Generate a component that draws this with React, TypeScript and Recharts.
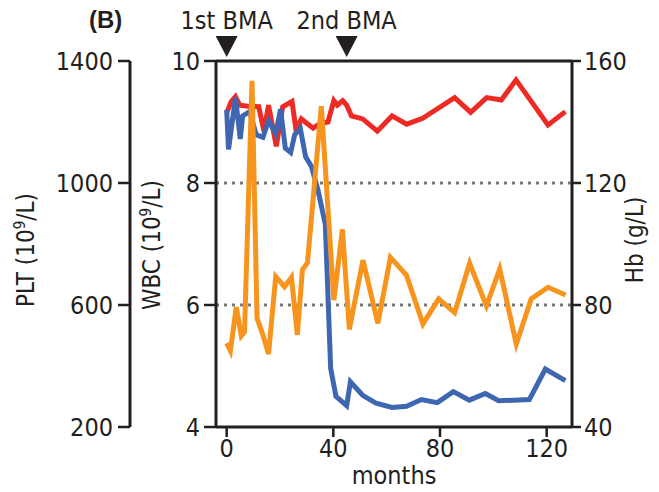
import React from 'react';
import { LineChart, Line, XAxis, YAxis, ReferenceLine } from 'recharts';

// months / values, one list pair per series
const wbcMonths = [0, 0.7, 3.3, 5.1, 6, 8.6, 11.1, 13.6, 15.7, 18.4, 20.2, 22, 24, 25.5, 27.6, 29.6, 31.8, 34.2, 37, 39, 41, 45, 46.4, 51, 56, 62, 67.5, 73, 79, 85, 91, 97, 102, 113.5, 119.5, 127];
const wbcValues = [9.2, 8.55, 9.4, 8.72, 9.1, 9.17, 8.79, 8.75, 9.02, 8.81, 9.21, 8.57, 8.5, 8.79, 8.9, 8.43, 8.27, 7.89, 7.32, 4.96, 4.5, 4.35, 4.74, 4.52, 4.39, 4.32, 4.34, 4.45, 4.4, 4.58, 4.44, 4.55, 4.43, 4.45, 4.95, 4.76];

const hbMonths = [0, 1.7, 3.3, 4.9, 8, 12, 14, 15.7, 18.6, 21, 24.5, 26, 28, 32.4, 35, 38, 40.2, 41.5, 43.5, 45, 46.8, 51, 56.5, 62, 67.5, 73.5, 85.5, 91.5, 97.5, 103, 108.5, 120.5, 127];
const hbValues = [143, 146.7, 148.3, 145.5, 145.2, 145, 137, 145.5, 132, 145, 146.7, 137.5, 141, 138, 139.5, 140, 147, 145.5, 147, 145.5, 142, 141, 137, 142, 139.3, 141.2, 148, 143.2, 148, 147.2, 153.8, 139, 143.4];

const pltMonths = [0, 1.4, 3.6, 5.5, 6.7, 9.5, 11.4, 13.6, 15.7, 18.4, 21.7, 24.3, 26.5, 28.4, 30.3, 35.5, 40.2, 43.4, 46, 51.1, 56.7, 61.4, 67.4, 73.6, 79.5, 85.5, 91.1, 97.4, 102.4, 108.6, 114.2, 120.5, 127.1];
const pltValues = [475, 450, 593, 499, 512, 1335, 556, 502, 439, 693, 660, 691, 502, 715, 739, 1252, 616, 848, 520, 747, 540, 756, 698, 538, 620, 575, 737, 597, 718, 472, 620, 658, 633];

const monthTicks = [0, 40, 80, 120];
const wbcTicks = [4, 6, 8, 10];
const pltTicks = [200, 600, 1000, 1400];
const hbTicks = [40, 80, 120, 160];
const gridLines = [6, 8];

const bmaMonths = [0, 45];
const bmaLabels = ['1st BMA', '2nd BMA'];

const toRows = (months: number[], values: number[]) => months.map((m, i) => ({ m, v: values[i] }));
const wbcData = toRows(wbcMonths, wbcValues);
const hbData = toRows(hbMonths, hbValues);
const pltData = toRows(pltMonths, pltValues);

const FONT = '"Liberation Sans Narrow", "DejaVu Sans Condensed", Arial, sans-serif';
const INK = '#231f20';
const tickStyle = { fill: INK, fontSize: 25, fontFamily: FONT };
const axisLine = { stroke: INK, strokeWidth: 3 };
const tickLine = { stroke: INK, strokeWidth: 2.5 };

const AxisTitle = ({ cx, cy, name, unit }: { cx: number; cy: number; name: string; unit?: boolean }) => (
  <text
    transform={`translate(${cx},${cy}) rotate(-90)`}
    textAnchor="middle"
    fill={INK}
    fontSize={24}
    fontFamily={FONT}
  >
    {unit ? (
      <>
        {name} (10<tspan dy={-9} fontSize={15}>9</tspan>
        <tspan dy={9}>/L)</tspan>
      </>
    ) : (
      name
    )}
  </text>
);

const renderBmaTick = (props: any) => {
  const { x, payload } = props;
  const i = bmaMonths.indexOf(payload.value);
  return (
    <g key={`bma-${payload.value}`}>
      <text x={x} y={29} textAnchor="middle" fill={INK} fontSize={25} fontFamily={FONT}>
        {bmaLabels[i]}
      </text>
      <path d={`M${x - 11},36 L${x + 11},36 L${x},57 Z`} fill={INK} />
    </g>
  );
};

export default function App() {
  return (
    <div style={{ position: 'absolute', left: 0, top: 0, width: 659, height: 492, background: '#fff' }}>
      <div
        style={{
          position: 'absolute',
          left: 89,
          top: 6,
          fontFamily: 'Arial, sans-serif',
          fontWeight: 'bold',
          fontSize: 24,
          color: INK,
        }}
      >
        (B)
      </div>
      <LineChart width={659} height={492} margin={{ top: 0, right: 0, bottom: 5, left: 0 }}>
        <XAxis
          xAxisId="top"
          orientation="top"
          type="number"
          dataKey="m"
          domain={[-4, 129.5]}
          allowDataOverflow
          ticks={bmaMonths}
          height={61}
          axisLine={axisLine}
          tickLine={false}
          tick={renderBmaTick}
          interval={0}
        />
        <XAxis
          xAxisId="m"
          type="number"
          dataKey="m"
          domain={[-4, 129.5]}
          allowDataOverflow
          ticks={monthTicks}
          height={60}
          axisLine={axisLine}
          tickLine={tickLine}
          tickSize={10}
          tickMargin={2}
          tick={tickStyle}
          interval={0}
          label={{ value: 'months', position: 'insideBottom', offset: 3, fill: INK, fontSize: 25, fontFamily: FONT }}
        />
        <YAxis
          yAxisId="a_wbc"
          orientation="left"
          width={86}
          domain={[4, 10]}
          ticks={wbcTicks}
          axisLine={axisLine}
          tickLine={tickLine}
          tickSize={12}
          tickMargin={4}
          tick={tickStyle}
          interval={0}
          label={{ content: () => <AxisTitle cx={160} cy={245} name="WBC" unit /> }}
        />
        <YAxis
          yAxisId="b_plt"
          orientation="left"
          width={130}
          domain={[200, 1400]}
          ticks={pltTicks}
          axisLine={axisLine}
          tickLine={tickLine}
          tickSize={12}
          tickMargin={5}
          tick={tickStyle}
          interval={0}
          label={{ content: () => <AxisTitle cx={34} cy={250} name="PLT" unit /> }}
        />
        <YAxis
          yAxisId="c_hb"
          orientation="right"
          width={87}
          domain={[40, 160]}
          ticks={hbTicks}
          axisLine={axisLine}
          tickLine={tickLine}
          tickSize={9}
          tickMargin={3}
          tick={tickStyle}
          interval={0}
          label={{ content: () => <AxisTitle cx={643} cy={240} name="Hb (g/L)" /> }}
        />
        {gridLines.map((g) => (
          <ReferenceLine
            key={g}
            xAxisId="m"
            yAxisId="a_wbc"
            y={g}
            stroke="#777"
            strokeWidth={3}
            strokeDasharray="3 5"
          />
        ))}
        <Line
          xAxisId="m"
          yAxisId="c_hb"
          data={hbData}
          dataKey="v"
          stroke="#ee2a24"
          strokeWidth={5}
          dot={false}
          type="linear"
          isAnimationActive={false}
        />
        <Line
          xAxisId="m"
          yAxisId="a_wbc"
          data={wbcData}
          dataKey="v"
          stroke="#3f67b1"
          strokeWidth={5}
          dot={false}
          type="linear"
          isAnimationActive={false}
        />
        <Line
          xAxisId="m"
          yAxisId="b_plt"
          data={pltData}
          dataKey="v"
          stroke="#f7941d"
          strokeWidth={5}
          dot={false}
          type="linear"
          isAnimationActive={false}
        />
      </LineChart>
    </div>
  );
}
